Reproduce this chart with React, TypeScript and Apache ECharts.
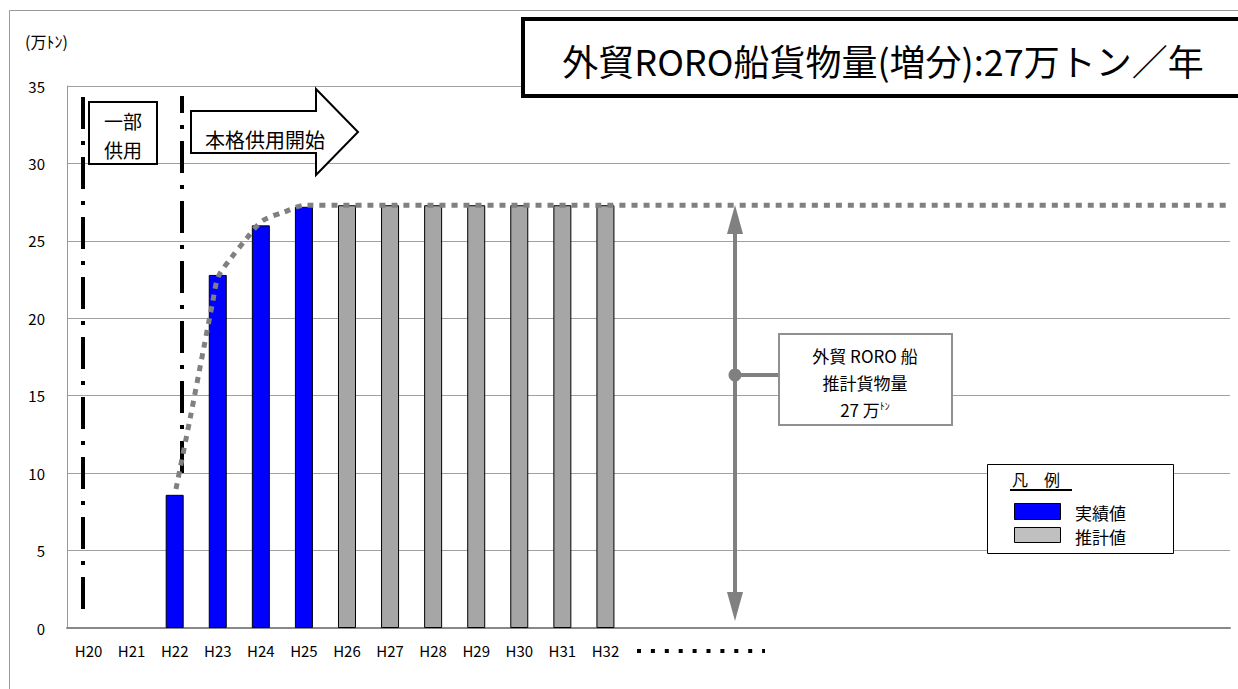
import React, { useEffect, useRef } from "react";
import * as echarts from "echarts";

const FONT = '"Noto Sans CJK JP", "Noto Sans", sans-serif';

const categories = [
  "H20", "H21", "H22", "H23", "H24", "H25", "H26", "H27", "H28", "H29", "H30", "H31", "H32",
  "", "", "", "", "", "", "", "", "", "", "", "", "", "",
];
const actualValues = [null, null, 8.6, 22.8, 26.0, 27.2, null, null, null, null, null, null, null];
const estimateValues = [null, null, null, null, null, null, 27.3, 27.3, 27.3, 27.3, 27.3, 27.3, 27.3];
// trend curve: [position in category units, value]
const trendPoints: [number, number][] = [
  [2.53, 8.98], [2.86, 13.56], [3.18, 18.15], [3.37, 20.86], [3.51, 22.67],
  [3.81, 23.89], [4.16, 25.12], [4.53, 26.28], [5.04, 26.86], [5.53, 27.3], [26.96, 27.3],
];
const yTicks = { min: 0, max: 35, interval: 5 };

function txt(text: string, x: number, y: number, size: number, extra: any = {}) {
  return {
    type: "text",
    z: 20,
    style: {
      text, x, y, fill: "#000", fontSize: size, fontFamily: FONT,
      align: "center", textAlign: "center", verticalAlign: "middle", textVerticalAlign: "middle",
      ...extra,
    },
  };
}

export default function App() {
  const ref = useRef<HTMLDivElement>(null);
  useEffect(() => {
    if (!ref.current) return;
    const chart = echarts.init(ref.current, null, { renderer: "svg" });
    const pad = (arr: (number | null)[]) => categories.map((_, i) => (i < arr.length ? arr[i] : null));
    const option: any = {
      animation: false,
      backgroundColor: "#fff",
      textStyle: { fontFamily: FONT },
      grid: { left: 67, right: 8, top: 86, bottom: 61, containLabel: false },
      xAxis: [
        {
          type: "category",
          data: categories,
          axisTick: { show: false },
          axisLine: { lineStyle: { color: "#888", width: 2 } },
          axisLabel: { interval: 0, color: "#000", fontSize: 15, margin: 15, fontFamily: FONT },
        },
        { type: "value", min: 0, max: 27, show: false },
      ],
      yAxis: {
        type: "value",
        min: yTicks.min,
        max: yTicks.max,
        interval: yTicks.interval,
        axisLine: { show: true, lineStyle: { color: "#999", width: 1 } },
        axisTick: { show: false },
        axisLabel: { color: "#000", fontSize: 15, margin: 22, fontFamily: FONT },
        splitLine: { lineStyle: { color: "#a0a0a0", width: 1 } },
      },
      series: [
        {
          name: "実績値",
          type: "bar",
          stack: "a",
          barWidth: 18,
          data: pad(actualValues),
          itemStyle: { color: "#0000FF", borderColor: "#000", borderWidth: 1 },
          z: 3,
        },
        {
          name: "推計値",
          type: "bar",
          stack: "a",
          barWidth: 18,
          data: pad(estimateValues),
          itemStyle: { color: "#A6A6A6", borderColor: "#000", borderWidth: 1 },
          z: 3,
        },
        {
          name: "trend",
          type: "line",
          xAxisIndex: 1,
          data: trendPoints,
          smooth: 0.3,
          symbol: "none",
          lineStyle: { color: "#808080", width: 5, type: [6, 6], cap: "butt" },
          z: 10,
        },
      ],
      graphic: [
        // outer frame
        { type: "rect", z: 0, shape: { x: 9.5, y: 10.5, width: 1240, height: 700 }, style: { fill: "none", stroke: "#999", lineWidth: 1 } },
        // y unit
        txt("(万ﾄﾝ)", 25, 41, 16, { align: "left", textAlign: "left" }),
        // dash-dot lines
        { type: "line", z: 5, shape: { x1: 83, y1: 97, x2: 83, y2: 609 }, style: { stroke: "#000", lineWidth: 4, lineDash: [32, 12, 4, 12] } },
        { type: "line", z: 5, shape: { x1: 182, y1: 96, x2: 182, y2: 473 }, style: { stroke: "#000", lineWidth: 4, lineDash: [32, 12, 4, 12], lineDashOffset: 15 } },
        // partial use box
        { type: "rect", z: 15, shape: { x: 89, y: 102, width: 68, height: 62 }, style: { fill: "#fff", stroke: "#000", lineWidth: 2 } },
        txt("一部", 123, 120, 19),
        txt("供用", 123, 149, 19),
        // full use arrow
        {
          type: "polygon", z: 15,
          shape: { points: [[191, 111], [316, 111], [316, 89], [358, 132], [316, 175], [316, 153], [191, 153]] },
          style: { fill: "#fff", stroke: "#000", lineWidth: 2 },
        },
        txt("本格供用開始", 265, 139, 20),
        // title box
        { type: "rect", z: 15, shape: { x: 523, y: 19, width: 760, height: 77 }, style: { fill: "#fff", stroke: "#000", lineWidth: 4 } },
        txt("外貿RORO船貨物量(増分):27万トン／年", 883, 60, 36),
        // callout double arrow
        { type: "line", z: 12, shape: { x1: 735, y1: 230, x2: 735, y2: 595 }, style: { stroke: "#808080", lineWidth: 4 } },
        { type: "polygon", z: 12, shape: { points: [[735, 205], [727, 234], [743, 234]] }, style: { fill: "#808080" } },
        { type: "polygon", z: 12, shape: { points: [[735, 621], [727, 592], [743, 592]] }, style: { fill: "#808080" } },
        { type: "circle", z: 12, shape: { cx: 735, cy: 375, r: 6.5 }, style: { fill: "#808080" } },
        { type: "line", z: 12, shape: { x1: 735, y1: 375, x2: 779, y2: 375 }, style: { stroke: "#808080", lineWidth: 4 } },
        { type: "rect", z: 15, shape: { x: 779, y: 334, width: 173, height: 91 }, style: { fill: "#fff", stroke: "#909090", lineWidth: 2 } },
        txt("外貿 RORO 船", 865, 355, 17),
        txt("推計貨物量", 865, 382, 17),
        {
          type: "text", z: 20,
          style: {
            text: "27 万{s|ﾄﾝ}", x: 865, y: 409, fill: "#000", fontSize: 17, fontFamily: FONT,
            align: "center", textAlign: "center", verticalAlign: "middle", textVerticalAlign: "middle",
            rich: { s: { fontSize: 10, fontFamily: FONT, verticalAlign: "top", lineHeight: 17 } },
          },
        },
        // legend
        { type: "rect", z: 15, shape: { x: 987.5, y: 464.5, width: 186, height: 89 }, style: { fill: "#fff", stroke: "#000", lineWidth: 1 } },
        txt("凡　例", 1012, 479, 16, { align: "left", textAlign: "left" }),
        { type: "line", z: 16, shape: { x1: 1010, y1: 490, x2: 1072, y2: 490 }, style: { stroke: "#000", lineWidth: 2 } },
        { type: "rect", z: 16, shape: { x: 1014.5, y: 503.5, width: 46, height: 16 }, style: { fill: "#0000FF", stroke: "#000", lineWidth: 1 } },
        { type: "rect", z: 16, shape: { x: 1014.5, y: 527.5, width: 46, height: 15 }, style: { fill: "#C0C0C0", stroke: "#000", lineWidth: 1 } },
        txt("実績値", 1075, 512, 17, { align: "left", textAlign: "left" }),
        txt("推計値", 1075, 536, 17, { align: "left", textAlign: "left" }),
        // continuation dots
        { type: "line", z: 12, shape: { x1: 637, y1: 651, x2: 765, y2: 651 }, style: { stroke: "#000", lineWidth: 4, lineDash: [4, 9.9] } },
      ],
    };
    chart.setOption(option);
    return () => chart.dispose();
  }, []);
  return <div ref={ref} style={{ position: "absolute", left: 0, top: 0, width: 1238, height: 689 }} />;
}
